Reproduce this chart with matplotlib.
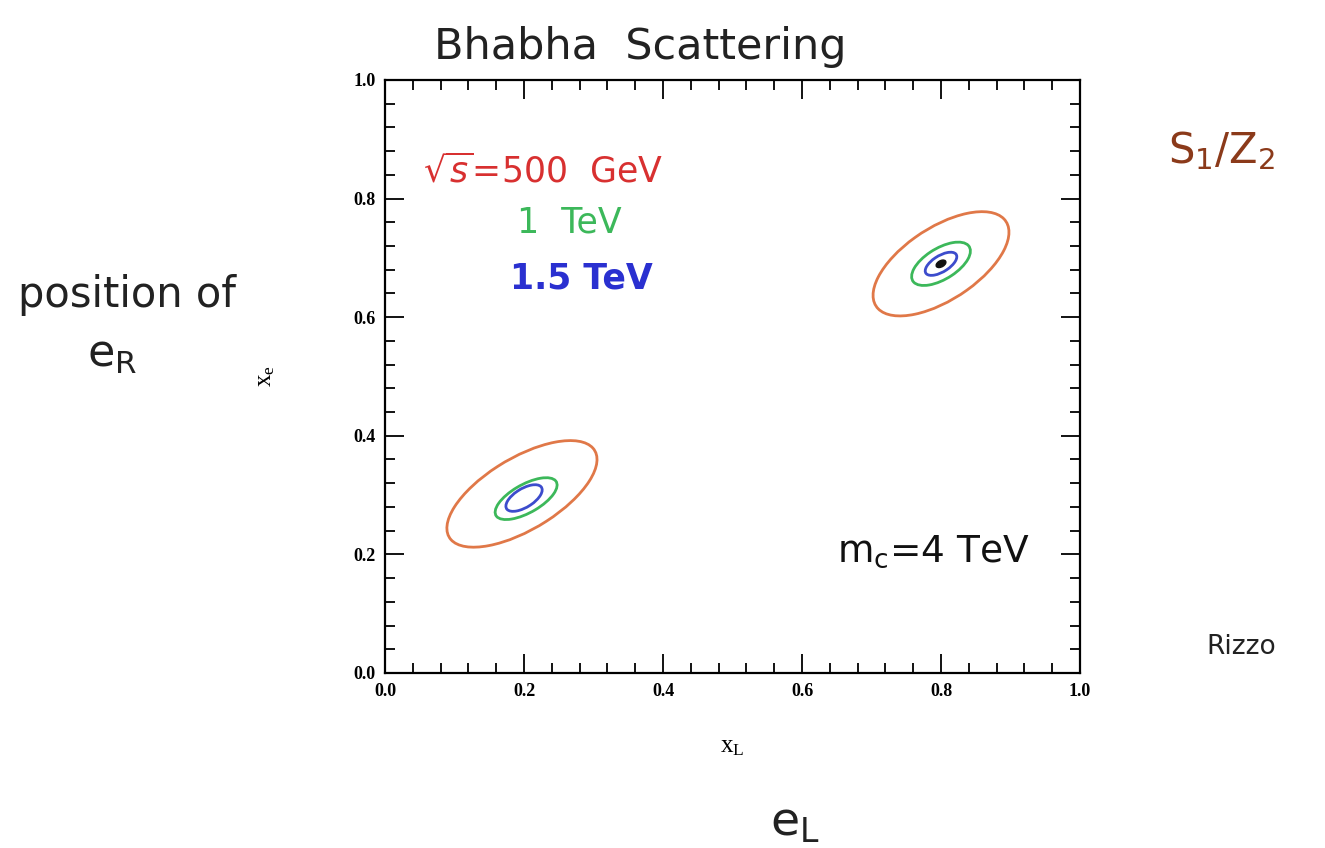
import matplotlib
matplotlib.use("Agg")
import matplotlib.pyplot as plt
from matplotlib.patches import Ellipse
from matplotlib.ticker import MultipleLocator

# ---------- data: contour ellipses (center x, center y, semi-major, semi-minor, angle) ----------
energies = ["500 GeV", "1 TeV", "1.5 TeV"]
colors = ["#e07848", "#3cb85a", "#3c4ccc"]

# upper-right solution (x_L ~ 0.8, x_e ~ 0.69)
ur_cx = [0.80, 0.80, 0.80]
ur_cy = [0.69, 0.69, 0.69]
ur_a = [0.118, 0.050, 0.027]
ur_b = [0.058, 0.025, 0.013]
ur_ang = [40, 38, 38]

# lower-left solution (x_L ~ 0.2, x_e ~ 0.3)
ll_cx = [0.197, 0.203, 0.200]
ll_cy = [0.302, 0.294, 0.295]
ll_a = [0.128, 0.052, 0.031]
ll_b = [0.058, 0.023, 0.015]
ll_ang = [37, 35, 38]

# best-fit point
best_x, best_y = 0.80, 0.69

ticks = [0.0, 0.2, 0.4, 0.6, 0.8, 1.0]

fig = plt.figure(figsize=(13.25, 8.48), dpi=100)
ax = fig.add_axes([0.2906, 0.2064, 0.5245, 0.6993])

for i in range(len(energies)):
    for cx, cy, a, b, ang in [(ur_cx[i], ur_cy[i], ur_a[i], ur_b[i], ur_ang[i]),
                              (ll_cx[i], ll_cy[i], ll_a[i], ll_b[i], ll_ang[i])]:
        e = Ellipse((cx, cy), 2 * a, 2 * b, angle=ang, fill=False,
                    edgecolor=colors[i], lw=2.0)
        ax.add_patch(e)

ax.add_patch(Ellipse((best_x, best_y), 0.016, 0.010, angle=38, color="#111111"))

ax.set_xlim(0, 1)
ax.set_ylim(0, 1)
ax.set_xticks(ticks)
ax.set_yticks(ticks)
ax.set_xticklabels([f"{t:.1f}" for t in ticks])
ax.set_yticklabels([f"{t:.1f}" for t in ticks])
ax.xaxis.set_minor_locator(MultipleLocator(0.04))
ax.yaxis.set_minor_locator(MultipleLocator(0.04))
ax.tick_params(which="both", direction="in", top=True, right=True, width=1.3,
               labelsize=13, pad=7)
ax.tick_params(which="major", length=14)
ax.tick_params(which="minor", length=7)
for lab in ax.get_xticklabels() + ax.get_yticklabels():
    lab.set_fontfamily("Liberation Serif")
    lab.set_fontweight("bold")
for s in ax.spines.values():
    s.set_linewidth(1.6)

ax.set_xlabel(r"$\mathregular{x_L}$", fontsize=18, family="Liberation Serif", labelpad=26)
ax.set_ylabel(r"$\mathregular{x_e}$", fontsize=18, family="Liberation Serif", labelpad=55)

# annotations inside the frame
hand = "DejaVu Sans"
ax.text(0.055, 0.845, r"$\sqrt{s}$=500  GeV", color="#d83030", fontsize=25,
        family=hand, va="center")
ax.text(0.19, 0.76, "1  TeV", color="#3cb85a", fontsize=25, family=hand, va="center")
ax.text(0.18, 0.665, "1.5 TeV", color="#2a30d0", fontsize=25, family=hand,
        va="center", fontweight="bold")
ax.text(0.65, 0.205, r"$\mathregular{m_c}$=4 TeV", color="#111111", fontsize=27,
        family=hand, va="center")

# annotations outside the frame
fig.text(0.483, 0.945, "Bhabha  Scattering", fontsize=31, family=hand,
         ha="center", va="center", color="#222222")
fig.text(0.922, 0.822, r"$\mathregular{S_1/Z_2}$", fontsize=30, family=hand,
         ha="center", va="center", color="#8b3a1a")
fig.text(0.096, 0.652, "position of", fontsize=30, family=hand,
         ha="center", va="center", color="#222222")
fig.text(0.085, 0.582, r"$\mathregular{e_R}$", fontsize=32, family=hand,
         ha="center", va="center", color="#222222")
fig.text(0.600, 0.030, r"$\mathregular{e_L}$", fontsize=34, family=hand,
         ha="center", va="center", color="#222222")
fig.text(0.937, 0.237, "Rizzo", fontsize=19, family=hand,
         ha="center", va="center", color="#222222")

fig.savefig("out.png", dpi=100, facecolor="white")
